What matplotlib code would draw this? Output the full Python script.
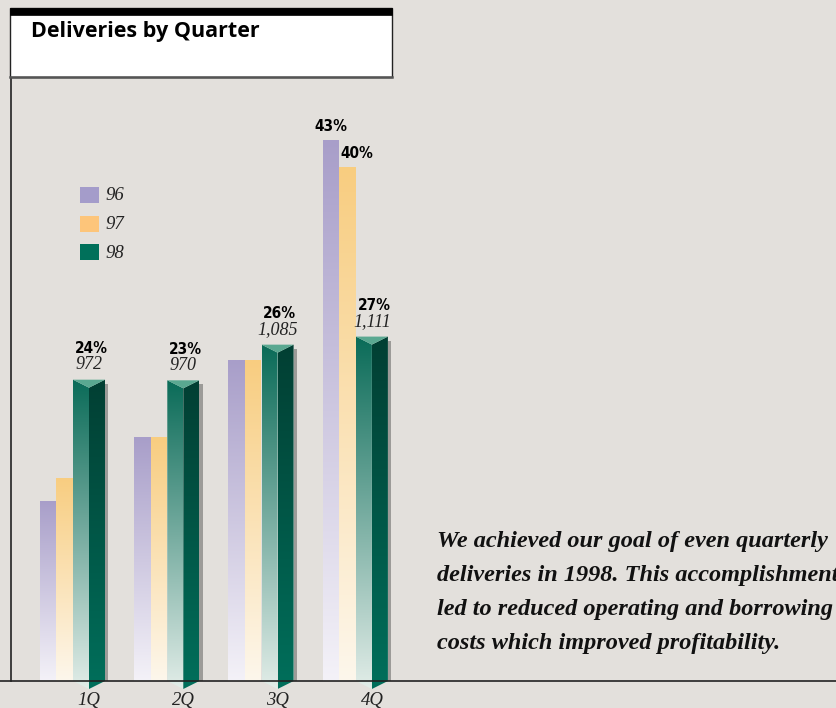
import numpy as np
import matplotlib
matplotlib.use("Agg")
import matplotlib.pyplot as plt
from matplotlib.patches import Polygon, Rectangle
from matplotlib.colors import LinearSegmentedColormap

# datos
quarters = ['1Q', '2Q', '3Q', '4Q']
years = ['96', '97', '98']
d96 = [581, 787, 1035, 1745]
d97 = [655, 787, 1035, 1658]
d98 = [972, 970, 1085, 1111]
pct_98 = ['24%', '23%', '26%', '27%']
lbl_98 = ['972', '970', '1,085', '1,111']
pct_4q_96 = '43%'
pct_4q_97 = '40%'
caption = ['We achieved our goal of even quarterly',
           'deliveries in 1998. This accomplishment',
           'led to reduced operating and borrowing',
           'costs which improved profitability.']

W, H = 837, 708
BASE = 681          # baseline (px from top)
X0 = 89             # centre of first group (px)
SX = 94.3           # px per group
SY = 0.31           # px per delivery

bg = '#e3e0dc'
fig = plt.figure(figsize=(W / 100, H / 100), dpi=100, facecolor=bg)
ax = fig.add_axes([0, 0, 1, 1])
ax.set_xlim(-X0 / SX, (W - X0) / SX)
ax.set_ylim(-(H - BASE) / SY, BASE / SY)
ax.axis('off')

pct_font = dict(fontsize=11, fontweight='bold', fontstretch='condensed',
                family=['Liberation Sans Narrow', 'DejaVu Sans'], zorder=5)
ital_font = dict(style='italic', family='Liberation Serif', color='#222222')


def px(v):   # horizontal px -> data
    return v / SX


def py(v):   # vertical px -> data
    return v / SY


def fx(v):   # absolute px position -> data
    return (v - X0) / SX


def fy(v):
    return (BASE - v) / SY


def gradient(verts, c_top, c_bot, z=3):
    verts = np.array(verts)
    x0, x1 = verts[:, 0].min(), verts[:, 0].max()
    y0, y1 = verts[:, 1].min(), verts[:, 1].max()
    cmap = LinearSegmentedColormap.from_list('g', [c_bot, c_top])
    img = np.linspace(0, 1, 256).reshape(-1, 1)
    im = ax.imshow(img, cmap=cmap, extent=(x0, x1, y0, y1), origin='lower',
                   aspect='auto', zorder=z, interpolation='bilinear')
    poly = Polygon(verts, closed=True, transform=ax.transData)
    im.set_clip_path(poly)


w_small = px(16.5)
w_prism = px(32)
off96 = -px(41)
off97 = -px(24.5)
cap = py(8)
vdep = py(8)

for i in range(4):
    # 96
    xa = i + off96 - w_small / 2
    gradient([(xa, 0), (xa + w_small, 0), (xa + w_small, d96[i]), (xa, d96[i])],
             '#a89ec9', '#f4f2f8')
    # 97
    xb = i + off97 - w_small / 2
    gradient([(xb, 0), (xb + w_small, 0), (xb + w_small, d97[i]), (xb, d97[i])],
             '#f8cd80', '#fdf7ec')
    # 98 prism
    h = d98[i]
    xl, xc, xr = i - w_prism / 2, i, i + w_prism / 2
    ax.add_patch(Rectangle((xr, 0), px(3.5), h - py(4), color='#9c9b98', zorder=2, lw=0))
    gradient([(xl, h), (xc, h - cap), (xc, -vdep), (xl, 0)], '#0a6b58', '#e2ede8')
    gradient([(xc, h - cap), (xr, h), (xr, 0), (xc, -vdep)], '#023f33', '#006f5b')
    ax.add_patch(Polygon([(xl, h), (xr, h), (xc, h - cap)], closed=True,
                         color='#5aa891', zorder=4, lw=0))
    ax.text(i + px(2), h + py(31), pct_98[i], ha='center', va='center', **pct_font)
    ax.text(i, h + py(15), lbl_98[i], ha='center', va='center', fontsize=13,
            zorder=5, **ital_font)
    ax.text(i, fy(701), quarters[i], ha='center', va='center', fontsize=13.5, **ital_font)

ax.text(3 + off96, d96[3] + py(14), pct_4q_96, ha='center', va='center', **pct_font)
ax.text(3 + off97 + px(9), d97[3] + py(14), pct_4q_97, ha='center', va='center', **pct_font)

# legend
leg_cols = ['#a49cca', '#fdc57a', '#00705a']
for k, (yr, c) in enumerate(zip(years, leg_cols)):
    ytop = 187 + k * 28.5
    ax.add_patch(Rectangle((fx(80), fy(ytop + 16)), px(19), py(16), color=c, lw=0, zorder=3))
    ax.text(fx(105), fy(ytop + 9), yr, ha='left', va='center', fontsize=13.5, **ital_font)

# axes lines
ax.plot([fx(0), fx(W)], [0, 0], color='#222222', lw=1.2, zorder=6, solid_capstyle='butt')
ax.plot([fx(10.5), fx(10.5)], [0, fy(77)], color='#222222', lw=1.2, zorder=6)

# title box
ax.add_patch(Rectangle((fx(10), fy(77)), px(382), py(69), facecolor='white',
                       edgecolor='#222222', lw=1.0, zorder=6))
ax.add_patch(Rectangle((fx(10), fy(15)), px(382), py(7), facecolor='black',
                       edgecolor='black', lw=0.5, zorder=7))
ax.plot([fx(10), fx(392)], [fy(76.5), fy(76.5)], color='#555555', lw=1.8, zorder=7)
ax.text(fx(31), fy(32), 'Deliveries by Quarter', ha='left', va='center',
        fontsize=15.5, fontweight='bold', family='Open Sans', zorder=8)

# caption
for j, line in enumerate(caption):
    ax.text(fx(437), fy(541 + j * 34.3), line, ha='left', va='center',
            fontsize=17.5, fontweight='bold', style='italic',
            family='Liberation Serif', color='#111111')

fig.savefig('out.png', dpi=100, facecolor=bg)
